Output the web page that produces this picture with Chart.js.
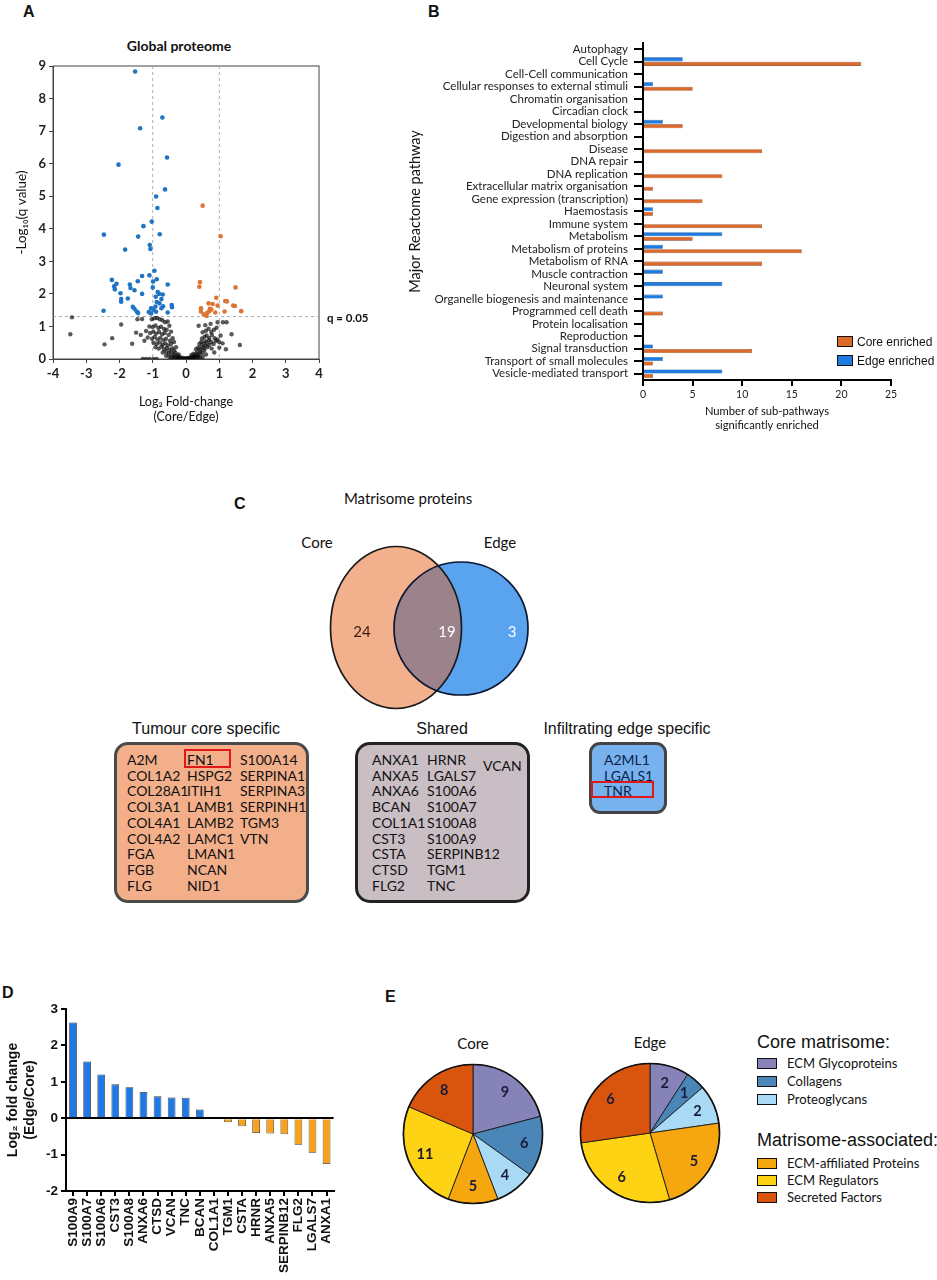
<!DOCTYPE html>
<html lang="en">
<head>
<meta charset="UTF-8">
<title>Matrisome figure</title>
<script src="https://cdn.jsdelivr.net/npm/chart.js@4.4.1/dist/chart.umd.min.js"></script>
<style>
    body { margin: 0; background: #fff; }
    #page { position: relative; width: 937px; height: 1280px; overflow: hidden; font-family: Lato, "Open Sans", sans-serif; color: #111; }
    canvas { position: absolute; }
    .t { position: absolute; white-space: nowrap; }
    .letter { position: absolute; font: bold 16px "Liberation Sans", Arial, sans-serif; }
    .ctr { transform: translate(-50%, -50%); }
    .sw { position: absolute; border: 1.5px solid #111; box-sizing: border-box; }
    .lgB { position: absolute; font: 12px "Liberation Sans", Arial, sans-serif; transform: translateY(-50%); }
    .box { position: absolute; box-sizing: border-box; }
    .col { position: absolute; font-size: 14px; line-height: 15.7px; white-space: pre; }
    .btitle { position: absolute; transform: translate(-50%, -50%); font: 16px "Liberation Sans", Arial, sans-serif; white-space: nowrap; }
    .red { position: absolute; border: 2px solid #e01818; box-sizing: border-box; }
    .lgE { position: absolute; font-size: 13px; transform: translateY(-50%); }
    .lgEh { position: absolute; font: 18px "Liberation Sans", Arial, sans-serif; transform: translateY(-50%); white-space: nowrap; }
</style>
</head>
<body>
<div id="page">
    <!-- A -->
    <div class="letter" style="left:23px;top:3px">A</div>
    <div class="t ctr" style="left:179px;top:45px;font-weight:bold;font-size:14px">Global proteome</div>
    <canvas id="cA" width="380" height="430" style="left:0;top:0"></canvas>

    <!-- B -->
    <div class="letter" style="left:428px;top:3px">B</div>
    <canvas id="cB" width="537" height="410" style="left:400px;top:30px"></canvas>
    <div class="sw" style="left:837px;top:336px;width:16px;height:11px;background:#dd6a2b"></div>
    <div class="lgB" style="left:857px;top:342px">Core enriched</div>
    <div class="sw" style="left:837px;top:355px;width:16px;height:11px;background:#1e7be0"></div>
    <div class="lgB" style="left:857px;top:361px">Edge enriched</div>

    <!-- C -->
    <div class="letter" style="left:234px;top:495px">C</div>
    <div class="t ctr" style="left:408px;top:498px;font-size:15px">Matrisome proteins</div>
    <div class="t ctr" style="left:317px;top:542px;font-size:15px">Core</div>
    <div class="t ctr" style="left:500px;top:542px;font-size:15px">Edge</div>
    <canvas id="cC" width="260" height="190" style="left:300px;top:530px"></canvas>

    <div class="btitle" style="left:206px;top:729px">Tumour core specific</div>
    <div class="box" style="left:114px;top:742px;width:195px;height:161px;background:#f2af8a;border:3px solid #4a4a4a;border-radius:14px"></div>
    <div class="col" style="left:127px;top:752px">A2M
COL1A2
COL28A1
COL3A1
COL4A1
COL4A2
FGA
FGB
FLG</div>
    <div class="col" style="left:187px;top:752px">FN1
HSPG2
ITIH1
LAMB1
LAMB2
LAMC1
LMAN1
NCAN
NID1</div>
    <div class="col" style="left:240px;top:752px">S100A14
SERPINA1
SERPINA3
SERPINH1
TGM3
VTN</div>
    <div class="red" style="left:184px;top:749px;width:47px;height:19px"></div>

    <div class="btitle" style="left:442px;top:729px">Shared</div>
    <div class="box" style="left:355px;top:742px;width:175px;height:161px;background:#c9bec4;border:3px solid #222;border-radius:15px"></div>
    <div class="col" style="left:372px;top:752px">ANXA1
ANXA5
ANXA6
BCAN
COL1A1
CST3
CSTA
CTSD
FLG2</div>
    <div class="col" style="left:427px;top:752px">HRNR
LGALS7
S100A6
S100A7
S100A8
S100A9
SERPINB12
TGM1
TNC</div>
    <div class="col" style="left:483px;top:758px">VCAN</div>

    <div class="btitle" style="left:627px;top:729px">Infiltrating edge specific</div>
    <div class="box" style="left:589px;top:742px;width:78px;height:72px;background:#77b2ef;border:3px solid #444;border-radius:11px"></div>
    <div class="col" style="left:604px;top:752px;color:#0d1f4a">A2ML1
LGALS1
TNR</div>
    <div class="red" style="left:591px;top:781px;width:63px;height:17px"></div>

    <!-- D -->
    <div class="letter" style="left:2px;top:984px">D</div>
    <canvas id="cD" width="345" height="290" style="left:0;top:990px"></canvas>

    <!-- E -->
    <div class="letter" style="left:385px;top:988px">E</div>
    <div class="t ctr" style="left:473px;top:1043px;font-size:15px">Core</div>
    <div class="t ctr" style="left:650px;top:1042px;font-size:15px">Edge</div>
    <canvas id="cE1" width="146" height="146" style="left:400px;top:1061px"></canvas>
    <canvas id="cE2" width="146" height="146" style="left:577px;top:1060px"></canvas>
    <div id="legE"></div>
</div>

<script>
    // ---- A: volcano, [log2 FC, -log10 q] ----
    const volcEdge = [[-1.53,8.83],[-0.71,7.42],[-1.38,7.09],[-0.57,6.19],[-2.03,5.97],[-0.63,5.21],[-0.90,4.99],
        [-0.86,4.64],[-1.03,4.22],[-1.28,4.08],[-2.47,3.82],[-0.79,3.83],[-1.44,3.76],[-1.09,3.50],[-1.07,3.38],
        [-1.83,3.36],[-0.95,2.71],[-1.10,2.57],[-1.32,2.55],[-0.88,2.45],[-2.23,2.43],[-0.99,2.38],[-1.45,2.39],
        [-0.55,2.29],[-2.09,2.31],[-2.16,2.23],[-1.69,2.29],[-1.67,2.18],[-1.00,2.20],[-1.55,2.11],[-2.14,2.14],
        [-0.85,2.06],[-0.81,2.00],[-1.97,2.02],[-1.32,2.00],[-0.70,1.98],[-0.91,1.91],[-1.75,1.86],[-1.95,1.84],
        [-0.74,1.84],[-1.95,1.76],[-0.88,1.75],[-0.80,1.71],[-0.43,1.66],[-0.69,1.62],[-1.60,1.60],[-0.92,1.61],
        [-0.42,1.59],[-0.74,1.56],[-1.05,1.56],[-1.55,1.54],[-0.98,1.51],[-2.48,1.48],[-1.48,1.46],[-1.12,1.44],
        [-0.90,1.45],[-0.55,1.43],[-1.44,1.41],[-1.05,1.40]];
    const volcCore = [[0.50,4.71],[1.04,3.77],[0.42,2.36],[0.40,2.22],[1.49,2.20],[0.91,1.88],[1.18,1.78],
        [1.23,1.77],[0.68,1.71],[0.80,1.69],[0.95,1.64],[1.42,1.64],[1.47,1.63],[0.45,1.56],[0.72,1.54],
        [0.70,1.47],[0.76,1.52],[0.45,1.46],[1.66,1.47],[0.88,1.43],[1.16,1.46],[0.64,1.42],[0.62,1.32],[0.53,1.37]];
    const volcOther = [[-3.43,1.28],[-3.48,0.76],[-2.45,0.45],[-2.22,0.64],[-1.95,1.06],[-1.62,0.47],[-1.5,0.81],
        [-1.36,0.74],[-1.46,1.22],[-1.32,1.23],[-1.25,0.56],[-1.2,0.86],[-1.15,0.66],[-1.1,1.0],[-1.08,0.8],
        [-1.3,0.0],[-1.2,0.0],[-1.1,0.0],[-0.98,0.0],[-0.88,0.0],
        [-1.03,1.22],[-0.95,1.25],[-0.87,1.26],[-0.79,1.22],[-0.71,1.19],[-0.63,1.13],[-0.55,1.15],
        [-1.0,0.98],[-0.92,1.03],[-0.83,0.95],[-0.75,0.99],[-0.66,0.92],[-0.58,0.9],[-0.5,1.02],
        [-0.98,0.84],[-0.9,0.78],[-0.81,0.83],[-0.72,0.76],[-0.64,0.8],[-0.52,0.74],[-0.45,0.84],
        [-1.02,0.62],[-0.94,0.68],[-0.86,0.6],[-0.77,0.65],[-0.68,0.58],[-0.6,0.62],[-0.48,0.56],[-0.4,0.64],
        [-0.98,0.5],[-0.88,0.46],[-0.79,0.51],[-0.7,0.44],[-0.62,0.48],[-0.54,0.42],[-0.45,0.47],[-0.36,0.52],
        [-0.92,0.36],[-0.82,0.32],[-0.74,0.38],[-0.66,0.3],[-0.58,0.34],[-0.5,0.28],[-0.42,0.33],[-0.36,0.26],[-0.3,0.36],
        [-0.7,0.2],[-0.6,0.22],[-0.52,0.16],[-0.45,0.2],[-0.38,0.14],[-0.32,0.19],[-0.27,0.11],[-0.22,0.14],[-0.6,0.1],
        [-0.5,0.07],[-0.44,0.05],[-0.38,0.07],[-0.33,0.03],[-0.28,0.05],[-0.24,0.02],[-0.2,0.06],[-0.17,0.02],
        [-0.14,0.04],[-0.1,0.01],[-0.07,0.03],[-0.03,0.01],[0.0,0.02],
        [0.03,0.01],[0.06,0.03],[0.09,0.02],[0.12,0.04],[0.15,0.02],[0.18,0.06],[0.21,0.03],[0.24,0.07],[0.27,0.04],
        [0.3,0.08],[0.34,0.05],[0.38,0.09],[0.42,0.04],[0.5,0.06],
        [0.16,0.12],[0.22,0.16],[0.28,0.13],[0.33,0.2],[0.38,0.15],[0.43,0.23],[0.48,0.18],[0.55,0.26],[0.6,0.14],
        [0.3,0.3],[0.36,0.35],[0.42,0.29],[0.47,0.38],[0.53,0.33],[0.58,0.41],[0.64,0.36],[0.7,0.43],[0.77,0.32],
        [0.4,0.46],[0.46,0.52],[0.52,0.47],[0.58,0.55],[0.63,0.5],[0.69,0.58],[0.76,0.52],[0.83,0.46],[0.9,0.55],
        [0.48,0.63],[0.56,0.68],[0.62,0.72],[0.7,0.65],[0.78,0.74],[0.86,0.64],[0.94,0.6],[1.0,0.52],
        [0.5,0.82],[0.6,0.87],[0.68,0.93],[0.76,0.83],[0.84,0.9],[0.92,0.96],[1.04,0.72],
        [0.38,1.02],[0.58,1.04],[0.74,1.08],[0.95,1.13],[1.11,1.13],[1.22,1.13],[1.1,0.48],[1.37,0.76],
        [1.62,0.43],[1.2,0.3],[0.85,0.2],[1.0,0.35]];
    const qLine = 1.301;   // -log10(0.05)
    const fcLines = [-1, 1];

    // ---- B: reactome pathways ----
    const pathways = ['Autophagy', 'Cell Cycle', 'Cell-Cell communication', 'Cellular responses to external stimuli',
        'Chromatin organisation', 'Circadian clock', 'Developmental biology', 'Digestion and absorption', 'Disease',
        'DNA repair', 'DNA replication', 'Extracellular matrix organisation', 'Gene expression (transcription)',
        'Haemostasis', 'Immune system', 'Metabolism', 'Metabolism of proteins', 'Metabolism of RNA',
        'Muscle contraction', 'Neuronal system', 'Organelle biogenesis and maintenance', 'Programmed cell death',
        'Protein localisation', 'Reproduction', 'Signal transduction', 'Transport of small molecules',
        'Vesicle-mediated transport'];
    const coreEnriched = [0, 22, 0, 5, 0, 0, 4, 0, 12, 0, 8, 1, 6, 1, 12, 5, 16, 12, 0, 0, 0, 2, 0, 0, 11, 1, 1];
    const edgeEnriched = [0, 4, 0, 1, 0, 0, 2, 0, 0, 0, 0, 0, 0, 1, 0, 8, 2, 0, 2, 8, 2, 0, 0, 0, 1, 2, 8];

    // ---- C: venn counts (core only, shared, edge only) ----
    const vennCounts = [24, 19, 3];

    // ---- D: shared proteins ----
    const sharedGenes = ['S100A9', 'S100A7', 'S100A6', 'CST3', 'S100A8', 'ANXA6', 'CTSD', 'VCAN', 'TNC', 'BCAN',
        'COL1A1', 'TGM1', 'CSTA', 'HRNR', 'ANXA5', 'SERPINB12', 'FLG2', 'LGALS7', 'ANXA1'];
    const sharedLog2FC = [2.63, 1.56, 1.20, 0.93, 0.85, 0.72, 0.60, 0.57, 0.56, 0.24,
        0, -0.11, -0.22, -0.41, -0.42, -0.44, -0.73, -0.95, -1.26];

    // ---- E: matrisome categories ----
    const matrisomeCats = ['ECM Glycoproteins', 'Collagens', 'Proteoglycans',
        'ECM-affiliated Proteins', 'ECM Regulators', 'Secreted Factors'];
    const coreCounts = [9, 6, 4, 5, 11, 8];
    const edgeCounts = [2, 1, 2, 5, 6, 6];
    const matrisomeColors = ['#8583b7', '#4b86b9', '#a8d9f5', '#f6a60e', '#fdd313', '#d9550d'];

    Chart.defaults.font.family = "Lato, 'Open Sans', sans-serif";
    Chart.defaults.color = '#111';
    const noPlug = { legend: { display: false }, tooltip: { enabled: false } };

    // ---------- A ----------
    const volcanoGuides = {
        id: 'volcanoGuides',
        beforeDatasetsDraw(chart) {
            const { ctx, chartArea: a, scales: { x, y } } = chart;
            ctx.save();
            ctx.strokeStyle = '#444';
            ctx.lineWidth = 1;
            ctx.strokeRect(a.left, a.top, a.right - a.left, a.bottom - a.top);
            ctx.strokeStyle = '#9a9a9a';
            ctx.lineWidth = 0.8;
            ctx.setLineDash([3, 3]);
            fcLines.forEach(v => {
                ctx.beginPath();
                ctx.moveTo(x.getPixelForValue(v), a.top);
                ctx.lineTo(x.getPixelForValue(v), a.bottom);
                ctx.stroke();
            });
            const qy = y.getPixelForValue(qLine);
            ctx.beginPath();
            ctx.moveTo(a.left, qy);
            ctx.lineTo(a.right + 4, qy);
            ctx.stroke();
            ctx.setLineDash([]);
            ctx.fillStyle = '#111';
            ctx.font = "bold 11.5px Lato, sans-serif";
            ctx.textBaseline = 'middle';
            ctx.fillText('q = 0.05', a.right + 8, qy + 2);
            ctx.restore();
        }
    };
    const toXY = arr => arr.map(p => ({ x: p[0], y: p[1] }));
    new Chart(document.getElementById('cA'), {
        type: 'scatter',
        data: {
            datasets: [
                { data: toXY(volcOther), backgroundColor: 'rgba(5,5,5,0.66)', pointRadius: 2.2, borderWidth: 0 },
                { data: toXY(volcEdge), backgroundColor: '#1f74c4', pointRadius: 2.3, borderWidth: 0 },
                { data: toXY(volcCore), backgroundColor: '#dc7435', pointRadius: 2.3, borderWidth: 0 }
            ]
        },
        options: {
            responsive: false, animation: false,
            layout: { padding: { left: 0, right: 61, top: 66, bottom: 0 } },
            plugins: noPlug,
            scales: {
                x: {
                    type: 'linear', min: -4, max: 4,
                    ticks: { stepSize: 1, font: { size: 13, weight: 'bold' }, color: '#222', padding: 3 },
                    grid: { drawOnChartArea: false, tickLength: 4, color: '#444' },
                    border: { color: '#444' },
                    title: { display: true, text: ['Log₂ Fold-change', '(Core/Edge)'], font: { size: 12.5 }, padding: { top: 0, bottom: 6 } },
                    afterFit: s => { s.height = 71; }
                },
                y: {
                    min: 0, max: 9,
                    ticks: { stepSize: 1, font: { size: 13, weight: 'bold' }, color: '#222', padding: 3 },
                    grid: { drawOnChartArea: false, tickLength: 4, color: '#444' },
                    border: { color: '#444' },
                    title: { display: true, text: '-Log₁₀(q value)', font: { size: 13.5 }, padding: { top: 14, bottom: 0 } },
                    afterFit: s => { s.width = 53; }
                }
            }
        },
        plugins: [volcanoGuides]
    });

    // ---------- B ----------
    new Chart(document.getElementById('cB'), {
        type: 'bar',
        data: {
            labels: pathways,
            datasets: [
                { label: 'Edge enriched', data: edgeEnriched, backgroundColor: '#1e7be0', borderColor: '#0f4a90', borderWidth: 0.6 },
                { label: 'Core enriched', data: coreEnriched, backgroundColor: '#dd6a2b', borderColor: '#7a3210', borderWidth: 0.6 }
            ]
        },
        options: {
            indexAxis: 'y', responsive: false, animation: false,
            layout: { padding: { left: 0, right: 46, top: 9, bottom: 0 } },
            datasets: { bar: { categoryPercentage: 0.72, barPercentage: 0.9 } },
            plugins: noPlug,
            scales: {
                y: {
                    ticks: { font: { size: 11.5 }, color: '#222', padding: 6, autoSkip: false },
                    grid: { drawOnChartArea: false, tickLength: 9, lineWidth: 2, color: '#000', offset: false },
                    border: { width: 2, color: '#000' },
                    title: { display: true, text: 'Major Reactome pathway', font: { size: 14.5 }, padding: { top: 7, bottom: 0 } },
                    afterFit: s => { s.width = 243; }
                },
                x: {
                    min: 0, max: 25,
                    ticks: { stepSize: 5, font: { size: 10.5 }, color: '#222', padding: 2 },
                    grid: { drawOnChartArea: false, tickLength: 6, lineWidth: 2, color: '#000' },
                    border: { width: 2, color: '#000' },
                    title: { display: true, text: ['Number of sub-pathways', 'significantly enriched'], font: { size: 11.2, lineHeight: 1.3 }, padding: { top: 0, bottom: 7 } },
                    afterFit: s => { s.height = 60; }
                }
            }
        }
    });

    // ---------- C ----------
    const VENN = {
        core: { cx: 96, cy: 97.5, rx: 65.5, ry: 81 },
        edge: { cx: 161, cy: 98.5, rx: 67, ry: 66.5 }
    };
    const vennLabelPos = [{ x: 62, y: 102 }, { x: 147, y: 102 }, { x: 212, y: 102 }];
    const vennLabelColors = ['#3a1a10', '#ffffff', '#ffffff'];
    const vennShapes = {
        id: 'vennShapes',
        beforeDatasetsDraw(chart) {
            const { ctx, scales: { x, y } } = chart;
            const shape = s => ({
                x: x.getPixelForValue(s.cx), y: y.getPixelForValue(s.cy),
                rx: Math.abs(x.getPixelForValue(s.cx + s.rx) - x.getPixelForValue(s.cx)),
                ry: Math.abs(y.getPixelForValue(s.cy + s.ry) - y.getPixelForValue(s.cy))
            });
            const c = shape(VENN.core), e = shape(VENN.edge);
            const path = s => { ctx.beginPath(); ctx.ellipse(s.x, s.y, s.rx, s.ry, 0, 0, Math.PI * 2); };
            ctx.save();
            path(c); ctx.fillStyle = '#f3b08d'; ctx.fill();
            path(e); ctx.fillStyle = '#5aa3ee'; ctx.fill();
            ctx.save(); path(c); ctx.clip(); path(e); ctx.fillStyle = '#9c828a'; ctx.fill(); ctx.restore();
            ctx.lineWidth = 1.7;
            path(c); ctx.strokeStyle = '#1a1a1a'; ctx.stroke();
            path(e); ctx.strokeStyle = '#0b1833'; ctx.stroke();
            ctx.restore();
        },
        afterDatasetsDraw(chart) {
            const { ctx } = chart;
            const meta = chart.getDatasetMeta(0);
            ctx.save();
            ctx.font = "15px Lato, sans-serif";
            ctx.textAlign = 'center';
            ctx.textBaseline = 'middle';
            meta.data.forEach((pt, i) => {
                ctx.fillStyle = vennLabelColors[i];
                ctx.fillText(vennCounts[i], pt.x, pt.y);
            });
            ctx.restore();
        }
    };
    new Chart(document.getElementById('cC'), {
        type: 'scatter',
        data: { datasets: [{ data: vennLabelPos, pointRadius: 0 }] },
        options: {
            responsive: false, animation: false,
            plugins: noPlug,
            scales: {
                x: { type: 'linear', min: 0, max: 260, display: false },
                y: { min: 0, max: 190, reverse: true, display: false }
            }
        },
        plugins: [vennShapes]
    });

    // ---------- D ----------
    new Chart(document.getElementById('cD'), {
        type: 'bar',
        data: {
            labels: sharedGenes,
            datasets: [{
                data: sharedLog2FC,
                backgroundColor: c => c.raw >= 0 ? '#1f78e3' : '#f7a11c',
                borderColor: '#333', borderWidth: 0.8,
                categoryPercentage: 1, barPercentage: 0.55
            }]
        },
        options: {
            responsive: false, animation: false,
            layout: { padding: { left: 0, right: 9, top: 19, bottom: 0 } },
            plugins: noPlug,
            scales: {
                y: {
                    min: -2, max: 3,
                    ticks: { stepSize: 1, font: { family: "'Liberation Sans', Arial, sans-serif", size: 13.5, weight: 'bold' }, color: '#111', padding: 3 },
                    grid: { color: c => (c.tick && c.tick.value === 0) ? '#000' : 'rgba(0,0,0,0)', lineWidth: 2, tickColor: '#000', tickLength: 5 },
                    border: { width: 2, color: '#000' },
                    title: { display: true, text: ['Log₂ fold change', '(Edge/Core)'], font: { family: "'Liberation Sans', Arial, sans-serif", size: 14, weight: 'bold', lineHeight: 1.25 }, padding: { top: 4, bottom: 0 } },
                    afterFit: s => { s.width = 66; }
                },
                x: {
                    ticks: { font: { family: "'Liberation Sans', Arial, sans-serif", size: 13.5, weight: 'bold' }, color: '#111', maxRotation: 90, minRotation: 90, autoSkip: false, padding: 2 },
                    grid: { drawOnChartArea: false, offset: false, lineWidth: 2, color: '#000', tickLength: 5 },
                    border: { width: 2, color: '#000' },
                    afterFit: s => { s.height = 89; }
                }
            }
        }
    });

    // ---------- E ----------
    const sliceLabels = {
        id: 'sliceLabels',
        afterDatasetsDraw(chart) {
            const { ctx } = chart;
            const meta = chart.getDatasetMeta(0);
            const vals = chart.data.datasets[0].data;
            ctx.save();
            const first = meta.data[0];
            ctx.beginPath();
            ctx.arc(first.x, first.y, first.outerRadius, 0, Math.PI * 2);
            ctx.lineWidth = 1.6;
            ctx.strokeStyle = '#111';
            ctx.stroke();
            ctx.font = "bold 14.5px Lato, sans-serif";
            ctx.fillStyle = '#1c1c3a';
            ctx.textAlign = 'center';
            ctx.textBaseline = 'middle';
            meta.data.forEach((arc, i) => {
                const a = (arc.startAngle + arc.endAngle) / 2;
                const r = arc.outerRadius * 0.75;
                ctx.fillText(vals[i], arc.x + Math.cos(a) * r, arc.y + Math.sin(a) * r);
            });
            ctx.restore();
        }
    };
    function makePie(id, counts) {
        new Chart(document.getElementById(id), {
            type: 'pie',
            data: { labels: matrisomeCats, datasets: [{ data: counts, backgroundColor: matrisomeColors, borderColor: '#1a1a1a', borderWidth: 0.9 }] },
            options: { responsive: false, animation: false, layout: { padding: 3 }, plugins: noPlug },
            plugins: [sliceLabels]
        });
    }
    makePie('cE1', coreCounts);
    makePie('cE2', edgeCounts);

    // legend for E
    const legE = document.getElementById('legE');
    const legRows = [1063, 1081, 1099, 1163, 1180, 1197];
    legE.innerHTML =
        '<div class="lgEh" style="left:757px;top:1042px">Core matrisome:</div>' +
        '<div class="lgEh" style="left:757px;top:1140px">Matrisome-associated:</div>' +
        matrisomeCats.map((c, i) =>
            '<div class="sw" style="left:757px;top:' + (legRows[i] - 5) + 'px;width:20px;height:11px;background:' + matrisomeColors[i] + '"></div>' +
            '<div class="lgE" style="left:787px;top:' + legRows[i] + 'px">' + c + '</div>').join('');
</script>
</body>
</html>
